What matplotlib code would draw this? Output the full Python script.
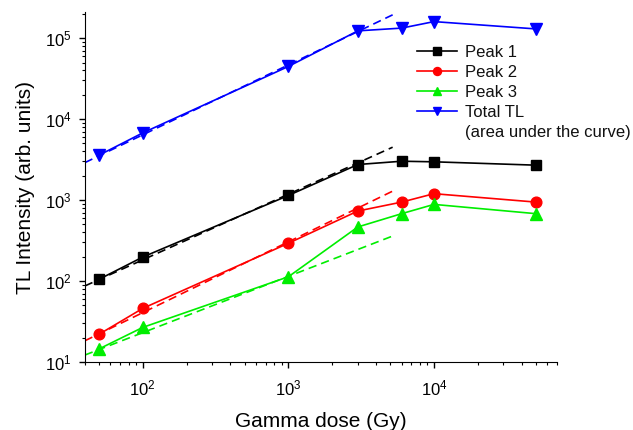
import numpy as np
import matplotlib
matplotlib.use('Agg')
import matplotlib.pyplot as plt

plt.rcParams['font.family'] = ['Liberation Sans', 'DejaVu Sans']
plt.rcParams['font.size'] = 12

dose = [50, 100, 1000, 3000, 6000, 10000, 50000]
peak1 = [105, 198, 1140, 2750, 3020, 2970, 2700]
peak2 = [22, 46, 293, 733, 945, 1200, 945]
peak3 = [14.5, 26.8, 113, 466, 680, 885, 680]
total = [3580, 6760, 44700, 123000, 133000, 160000, 130000]

# linear fit lines (end points)
fit_x = [40, 5200]
fit1 = [87, 4500]
fit2 = [18.3, 1290]
fit3 = [12.2, 360]
fit_tot = [2900, 194000]

fig = plt.figure(figsize=(6.33, 4.3), dpi=100)
ax = fig.add_axes([0.134, 0.158, 0.746, 0.814])

dash = (0, (5, 3))
green = '#00ee00'
ax.plot(fit_x, fit1, color='black', ls=dash, lw=1.2)
ax.plot(fit_x, fit2, color='red', ls=dash, lw=1.2)
ax.plot(fit_x, fit3, color=green, ls=dash, lw=1.2)
ax.plot(fit_x, fit_tot, color='blue', ls=dash, lw=1.2)

ax.plot(dose, peak1, color='black', marker='s', ms=7, lw=1.2, label='Peak 1')
ax.plot(dose, peak2, color='red', marker='o', ms=7.7, lw=1.2, label='Peak 2')
ax.plot(dose, peak3, color=green, marker='^', ms=8.5, lw=1.2, label='Peak 3')
ax.plot(dose, total, color='blue', marker='v', ms=8.5, lw=1.2, label='Total TL')
ax.plot([], [], color='none', label='(area under the curve)')

ax.set_xscale('log')
ax.set_yscale('log')
ax.set_xlim(40, 7e4)
ax.set_ylim(10, 2.1e5)

for s in ['top', 'right']:
    ax.spines[s].set_visible(False)
ax.tick_params(which='major', direction='out', length=4.5, width=1, labelsize=12, pad=5)
ax.tick_params(axis='x', which='major', pad=7)
ax.tick_params(which='minor', direction='out', length=2.5, width=0.8)

ax.set_xlabel('Gamma dose (Gy)', fontsize=15, labelpad=10)
ax.set_ylabel('TL Intensity (arb. units)', fontsize=15, labelpad=7)

leg = ax.legend(loc='upper left', bbox_to_anchor=(0.703, 0.905), frameon=False,
                handlelength=2.4, handletextpad=0.5, labelspacing=0.3,
                borderpad=0, borderaxespad=0, fontsize=12, markerscale=0.75)
for t in leg.get_texts():
    t.set_color('#111111')

fig.savefig('out.png', dpi=100)
